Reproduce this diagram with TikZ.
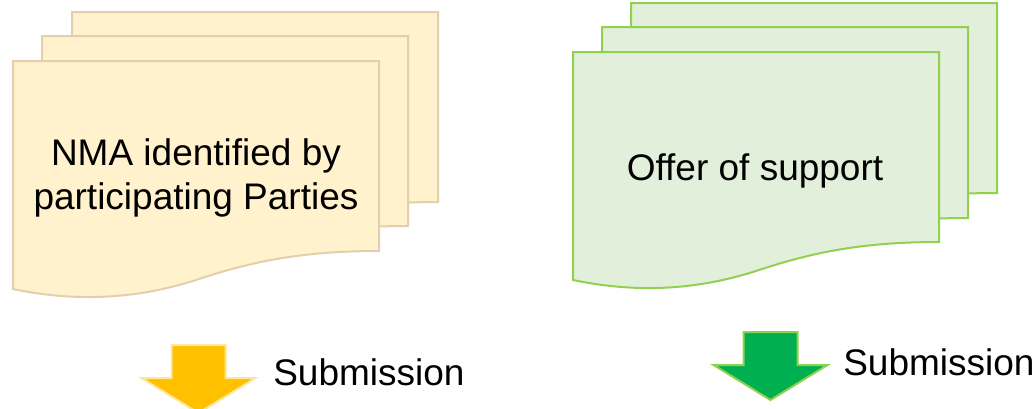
\documentclass[tikz,border=0pt]{standalone}
\usepackage{fontspec}
\setmainfont{Liberation Sans}
\usepackage{xcolor}
\usepackage{tikz}

\begin{document}
\begin{tikzpicture}[x=0.75pt,y=0.75pt,yscale=-1,xscale=1,
  yellowpage/.style={color={rgb, 255:red, 226; green, 207; blue, 174 }, fill={rgb, 255:red, 255; green, 242; blue, 204 }, line width=1.5},
  greenpage/.style={color={rgb, 255:red, 146; green, 208; blue, 80 }, fill={rgb, 255:red, 226; green, 239; blue, 218 }, line width=1.5},
  yellowarrow/.style={color={rgb, 255:red, 255; green, 230; blue, 153 }, fill={rgb, 255:red, 255; green, 192; blue, 0 }, line width=1.5},
  greenarrow/.style={color={rgb, 255:red, 146; green, 208; blue, 80 }, fill={rgb, 255:red, 0; green, 176; blue, 80 }, line width=1.5},
  label/.style={font=\fontsize{27.75}{33}\selectfont, inner sep=0pt, align=center}]
\useasboundingbox (0,0) rectangle (1036,408);

%Shape: Document [id:left-back] 
\draw [yellowpage] (72,12) -- (438,12) -- (438,202) .. controls (359,202) and (309,213) .. (255,231) .. controls (199,249) and (139,254) .. (72,240) -- cycle ;
%Shape: Document [id:left-mid] 
\draw [yellowpage] (42,36) -- (408,36) -- (408,226) .. controls (329,226) and (279,237) .. (225,255) .. controls (169,273) and (109,278) .. (42,264) -- cycle ;
%Shape: Document [id:left-front] 
\draw [yellowpage] (13,61) -- (379,61) -- (379,251) .. controls (300,251) and (250,262) .. (196,280) .. controls (140,298) and (80,303) .. (13,289) -- cycle ;

%Shape: Document [id:right-back] 
\draw [greenpage] (631,3) -- (997,3) -- (997,193) .. controls (918,193) and (868,204) .. (814,222) .. controls (758,240) and (698,245) .. (631,231) -- cycle ;
%Shape: Document [id:right-mid] 
\draw [greenpage] (602,27) -- (968,27) -- (968,218) .. controls (889,218) and (839,229) .. (785,247) .. controls (729,265) and (669,270) .. (602,256) -- cycle ;
%Shape: Document [id:right-front] 
\draw [greenpage] (573,52) -- (939,52) -- (939,242) .. controls (860,242) and (810,253) .. (756,271) .. controls (700,289) and (640,294) .. (573,280) -- cycle ;

%Down Arrow [id:left-arrow] 
\draw [yellowarrow] (171.5,345) -- (225.5,345) -- (225.5,378) -- (255.5,378) -- (198.5,413) -- (141.5,378) -- (171.5,378) -- cycle ;
%Down Arrow [id:right-arrow] 
\draw [greenarrow] (743.5,332) -- (797.5,332) -- (797.5,365) -- (827.5,365) -- (770.5,400) -- (713.5,365) -- (743.5,365) -- cycle ;

% Text Node
\node [label] (nma) at (196,177.5) {NMA identified by\\participating Parties};
% Text Node
\node [label, anchor=base] (offer) at (755,180) {Offer of support};
% Text Node
\node [label, anchor=base west] (subleft) at (273,385) {Submission};
% Text Node
\node [label, anchor=base west] (subright) at (843,375) {Submission};

\end{tikzpicture}
\end{document}
